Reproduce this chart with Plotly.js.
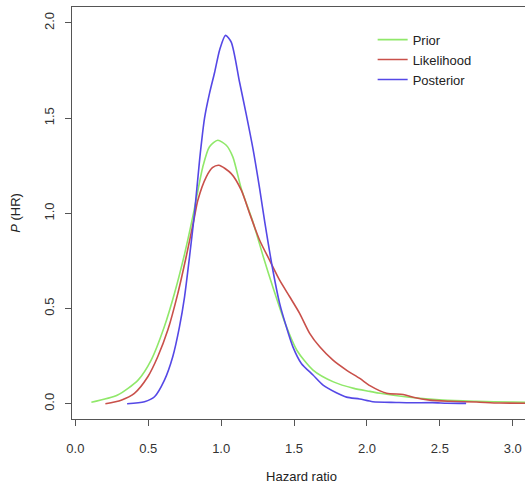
<!DOCTYPE html>
<html>
<head>
<meta charset="utf-8">
<script src="https://cdn.plot.ly/plotly-3.0.1.min.js"></script>
<style>
html, body { margin: 0; padding: 0; overflow: hidden; background: #fff; width: 525px; height: 484px; }
#chart { width: 535px; height: 484px; }
</style>
</head>
<body>
<div id="chart"></div>
<script>
// Series names
var seriesNames = ["Prior", "Likelihood", "Posterior"];

// Prior density
var priorX = [0.11, 0.29, 0.43, 0.52, 0.61, 0.68, 0.75, 0.81, 0.874, 0.92, 0.977, 1.035, 1.08, 1.138, 1.22, 1.29, 1.36, 1.44, 1.52, 1.63, 1.77, 1.91, 2.02, 2.09, 2.29, 2.52, 2.75, 3.0, 3.13];
var priorY = [0.008, 0.046, 0.124, 0.229, 0.404, 0.58, 0.79, 1.0, 1.244, 1.35, 1.384, 1.358, 1.297, 1.13, 0.95, 0.77, 0.6, 0.42, 0.28, 0.177, 0.115, 0.081, 0.065, 0.055, 0.034, 0.019, 0.013, 0.009, 0.007];

// Likelihood density
var likeX = [0.206, 0.314, 0.405, 0.497, 0.565, 0.634, 0.703, 0.76, 0.817, 0.84, 0.898, 0.94, 0.984, 1.069, 1.138, 1.195, 1.264, 1.332, 1.401, 1.47, 1.538, 1.607, 1.676, 1.767, 1.859, 1.951, 2.02, 2.134, 2.248, 2.317, 2.431, 2.569, 2.75, 2.91, 3.13];
var likeY = [0.0, 0.019, 0.055, 0.142, 0.247, 0.387, 0.58, 0.772, 0.982, 1.069, 1.192, 1.24, 1.253, 1.209, 1.122, 1.0, 0.859, 0.754, 0.649, 0.562, 0.475, 0.37, 0.299, 0.229, 0.177, 0.133, 0.095, 0.055, 0.049, 0.034, 0.019, 0.013, 0.009, 0.004, 0.003];

// Posterior density
var postX = [0.355, 0.474, 0.543, 0.611, 0.668, 0.714, 0.749, 0.783, 0.817, 0.852, 0.886, 0.92, 0.955, 0.99, 1.03, 1.069, 1.126, 1.172, 1.218, 1.264, 1.30, 1.355, 1.401, 1.447, 1.492, 1.55, 1.63, 1.699, 1.79, 1.86, 1.95, 2.04, 2.2, 2.3, 2.45, 2.55, 2.68];
var postY = [0.0, 0.011, 0.037, 0.124, 0.247, 0.404, 0.562, 0.772, 0.999, 1.28, 1.50, 1.63, 1.74, 1.86, 1.935, 1.90, 1.69, 1.52, 1.34, 1.13, 0.95, 0.70, 0.527, 0.404, 0.299, 0.212, 0.151, 0.098, 0.058, 0.035, 0.025, 0.011, 0.007, 0.005, 0.006, 0.003, 0.002];

var xTicks = [0.0, 0.5, 1.0, 1.5, 2.0, 2.5, 3.0];
var yTicks = [0.0, 0.5, 1.0, 1.5, 2.0];

var colors = ["#90e86a", "#c9504a", "#5548e6"];
var xs = [priorX, likeX, postX];
var ys = [priorY, likeY, postY];

var traces = seriesNames.map(function (n, i) {
  return {
    x: xs[i], y: ys[i], name: n, type: "scatter", mode: "lines",
    line: { color: colors[i], width: 1.6, shape: "spline", smoothing: 0.7 },
    hoverinfo: "skip"
  };
});

var font = { family: "Liberation Sans, Arial, sans-serif", size: 13, color: "#222" };

var layout = {
  width: 535, height: 484,
  margin: { l: 72, r: 4, t: 7, b: 65 },
  paper_bgcolor: "#fff", plot_bgcolor: "#fff",
  font: font,
  showlegend: true,
  legend: {
    x: 0.655, y: 0.957, xanchor: "left", yanchor: "top",
    bgcolor: "rgba(0,0,0,0)", borderwidth: 0,
    font: { family: font.family, size: 13, color: "#222" },
    traceorder: "normal"
  },
  xaxis: {
    range: [-0.023, 3.125],
    tickvals: xTicks, tickformat: ".1f",
    ticks: "outside", ticklen: 6, tickwidth: 1, tickcolor: "#555",
    showline: true, linecolor: "#555", linewidth: 1, mirror: true,
    showgrid: false, zeroline: false,
    tickfont: { family: font.family, size: 13, color: "#333" },
    ticklabelstandoff: 11,
    title: { text: "Hazard ratio", font: { family: font.family, size: 13, color: "#222" }, standoff: 18 }
  },
  yaxis: {
    range: [-0.08, 2.084],
    tickvals: yTicks, tickformat: ".1f",
    ticks: "outside", ticklen: 6, tickwidth: 1, tickcolor: "#555",
    tickangle: -90,
    showline: true, linecolor: "#555", linewidth: 1, mirror: true,
    showgrid: false, zeroline: false,
    tickfont: { family: font.family, size: 13, color: "#333" },
    ticklabelstandoff: 6,
    title: { text: "<i>P</i> (HR)", font: { family: font.family, size: 13, color: "#222" }, standoff: 18 }
  }
};

Plotly.newPlot("chart", traces, layout, { displayModeBar: false, staticPlot: true });
</script>
</body>
</html>
